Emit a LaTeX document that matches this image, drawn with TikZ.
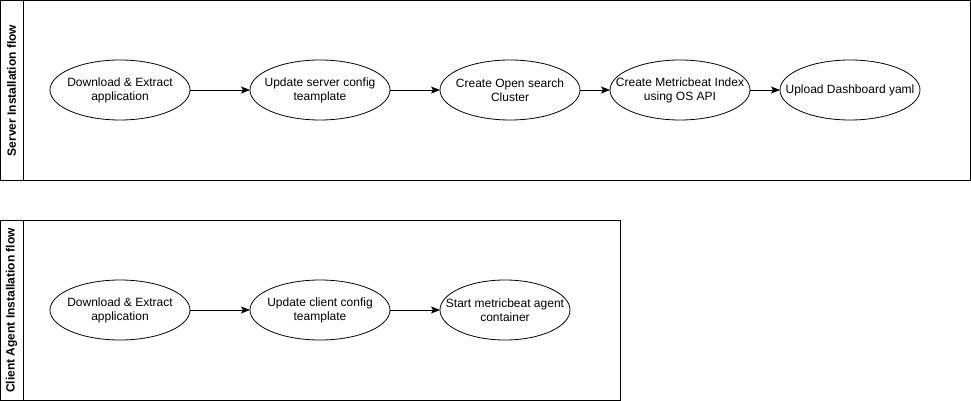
\documentclass[tikz,border=0pt]{standalone}
\usepackage{fontspec}
\setmainfont{Liberation Sans}
\usetikzlibrary{shapes.geometric,arrows.meta}
\begin{document}
\begin{tikzpicture}[x=1pt,y=-1pt,
  every node/.style={font=\fontsize{12}{14}\selectfont},
  stepell/.style={ellipse,draw,line width=0.8pt,minimum width=140pt,minimum height=60pt,inner sep=0pt,outer sep=0pt},
  txt/.style={align=center,inner sep=0pt},
  flow/.style={draw,line width=0.8pt,-{Stealth[length=9pt,width=7pt,inset=2pt]}},
  pool/.style={draw,line width=0.8pt},
  hdr/.style={rotate=90,font=\bfseries\fontsize{12}{14}\selectfont}]
\useasboundingbox (0,0) rectangle (971,401);
% Pool 1
\draw[pool] (0.5,0.5) rectangle (970.5,180.5);
\draw[pool] (23,0.5) -- (23,180.5);
\node[hdr] (h1) at (11.5,90.5) {Server Installation flow};
\node[stepell] (s1) at (120,90) {};
\node[txt] (t1) at (s1) {Download \& Extract\\application};
\node[stepell] (s2) at (320,90) {};
\node[txt] (t2) at (s2) {Update server config\\teamplate};
\node[stepell] (s3) at (510,90) {};
\node[txt] (t3) at (s3) {Create Open search\\Cluster};
\node[stepell] (s4) at (680,90) {};
\node[txt] (t4) at (s4) {Create Metricbeat Index\\using OS API};
\node[stepell] (s5) at (850,90) {};
\node[txt] (t5) at (s5) {Upload Dashboard yaml};
\draw[flow] (s1) -- (s2);
\draw[flow] (s2) -- (s3);
\draw[flow] (s3) -- (s4);
\draw[flow] (s4) -- (s5);
% Pool 2
\draw[pool] (0.5,220.5) rectangle (620.5,400.5);
\draw[pool] (23,220.5) -- (23,400.5);
\node[hdr] (h2) at (11.5,310.5) {Client Agent Installation flow};
\node[stepell] (c1) at (120,310) {};
\node[txt] (u1) at (c1) {Download \& Extract\\application};
\node[stepell] (c2) at (320,310) {};
\node[txt] (u2) at (c2) {Update client config\\teamplate};
\node[stepell,minimum width=130pt] (c3) at (505,310) {};
\node[txt] (u3) at (c3) {Start metricbeat agent\\container};
\draw[flow] (c1) -- (c2);
\draw[flow] (c2) -- (c3);
\end{tikzpicture}
\end{document}
